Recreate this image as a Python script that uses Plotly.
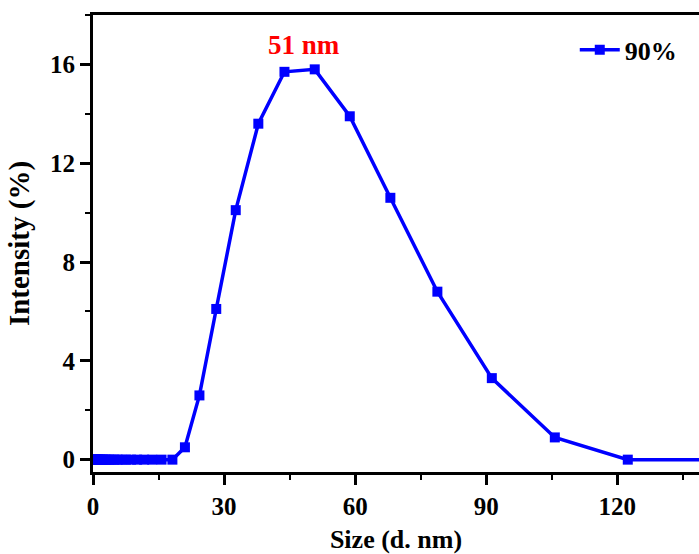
import plotly.graph_objects as go

# DLS size bins (d. nm) and intensity distribution (%)
sizes = [0.4, 0.4632, 0.5365, 0.6213, 0.7195, 0.8332, 0.9649, 1.117, 1.294,
         1.499, 1.736, 2.01, 2.328, 2.696, 3.122, 3.615, 4.187, 4.849, 5.615,
         6.503, 7.531, 8.721, 10.1, 11.7, 13.54, 15.69, 18.17, 21.04, 24.36,
         28.21, 32.67, 37.84, 43.82, 50.75, 58.77, 68.06, 78.82, 91.28, 105.7,
         122.4, 141.8]
intensity = [0, 0, 0, 0, 0, 0, 0, 0, 0,
             0, 0, 0, 0, 0, 0, 0, 0, 0, 0,
             0, 0, 0, 0, 0, 0, 0, 0, 0.5, 2.6,
             6.1, 10.1, 13.6, 15.7, 15.8, 13.9, 10.6, 6.8, 3.3, 0.9,
             0, 0]
series_name = "90%"
peak_label = "51 nm"

x_ticks = [0, 30, 60, 90, 120]
y_ticks = [0, 4, 8, 12, 16]

FONT = "Liberation Serif"
BLUE = "#0000FF"

fig = go.Figure()
fig.add_trace(go.Scatter(
    x=sizes, y=intensity, name="<b>%s</b>" % series_name, mode="lines+markers",
    line=dict(color=BLUE, width=3.5),
    marker=dict(symbol="square", size=10, color=BLUE),
))

fig.add_annotation(
    x=48.2, y=16.8, xref="x", yref="y", text="<b>%s</b>" % peak_label,
    showarrow=False, font=dict(family=FONT, size=27, color="#FF0000"),
)

axis_common = dict(
    showline=True, linecolor="black", linewidth=3,
    ticks="outside", tickcolor="black", tickwidth=2.5, ticklen=10,
    showgrid=False, zeroline=False,
    tickfont=dict(family=FONT, size=25, color="black"),
)

fig.update_layout(
    width=699, height=554,
    margin=dict(l=93, r=0, t=15, b=82),
    paper_bgcolor="white", plot_bgcolor="white",
    font=dict(family=FONT, color="black"),
    xaxis=dict(
        range=[0, 138.7], tickvals=x_ticks,
        ticktext=["<b>%d</b>" % v for v in x_ticks],
        minor=dict(dtick=15, tick0=0, ticks="outside", ticklen=5,
                   tickwidth=2, tickcolor="black"),
        title=dict(text="<b>Size (d. nm)</b>", standoff=12,
                   font=dict(family=FONT, size=26)),
        mirror=True,
        **axis_common,
    ),
    xaxis2=dict(
        overlaying="x", side="top", anchor="y", matches="x",
        range=[0, 138.7], tickvals=x_ticks + [15, 45, 75, 105, 135],
        showticklabels=False, showline=False, showgrid=False, zeroline=False,
        ticks="inside", ticklen=4, tickwidth=2, tickcolor="black",
    ),
    yaxis=dict(
        range=[-0.5, 18], tickvals=y_ticks,
        ticktext=["<b>%d</b>" % v for v in y_ticks],
        minor=dict(dtick=2, tick0=0, ticks="outside", ticklen=5,
                   tickwidth=2, tickcolor="black"),
        title=dict(text="<b>Intensity (%)</b>", standoff=12,
                   font=dict(family=FONT, size=29)),
        **axis_common,
    ),
    legend=dict(
        x=0.795, y=0.975, xanchor="left", yanchor="top",
        itemwidth=40,
        bgcolor="rgba(0,0,0,0)",
        font=dict(family=FONT, size=26, color="black"),
    ),
    showlegend=True,
)

fig.write_html("out.html")
